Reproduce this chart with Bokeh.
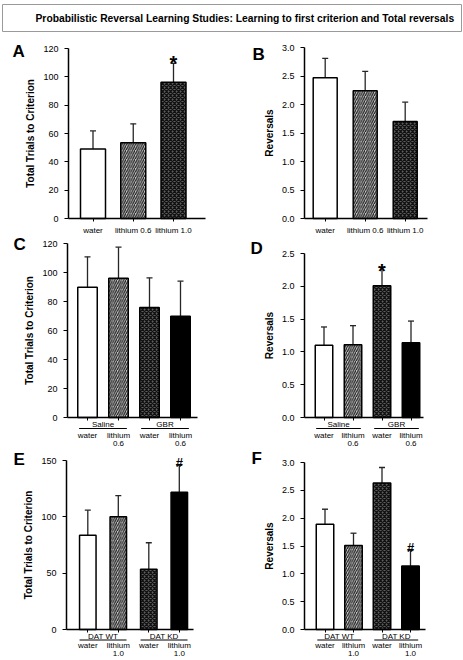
import numpy as np
from bokeh.plotting import figure
from bokeh.layouts import column, row
from bokeh.models import (ColumnDataSource, FixedTicker, LinearAxis, Range1d,
                          Whisker, TeeHead, NumeralTickFormatter)
from bokeh.embed import file_html
from bokeh.resources import INLINE
from bokeh.core.properties import value

FONT = "Liberation Sans"

TITLE = "Probabilistic Reversal Learning Studies: Learning to first criterion and Total reversals"

# ---------------- data ----------------
# Panel A: total trials to criterion, lithium dose
a_cats = ["water", "lithium 0.6", "lithium 1.0"]
a_mean = [49.0, 53.5, 96.2]
a_upper = [61.8, 66.8, 109.5]
a_yticks = [0, 20, 40, 60, 80, 100, 120]

# Panel B: reversals, lithium dose
b_cats = ["water", "lithium 0.6", "lithium 1.0"]
b_mean = [2.47, 2.24, 1.70]
b_upper = [2.81, 2.58, 2.04]
b_yticks = [0.0, 0.5, 1.0, 1.5, 2.0, 2.5, 3.0]

# Panels C/D: Saline vs GBR x water vs lithium 0.6
cd_cats = ["water", "lithium\n0.6", "water", "lithium\n0.6"]
cd_groups = ["Saline", "GBR"]
c_mean = [89.9, 96.0, 75.9, 69.9]
c_upper = [110.8, 117.5, 96.3, 94.0]
c_yticks = [0, 20, 40, 60, 80, 100, 120]
d_mean = [1.10, 1.11, 2.01, 1.14]
d_upper = [1.38, 1.40, 2.29, 1.47]
d_yticks = [0.0, 0.5, 1.0, 1.5, 2.0, 2.5]

# Panels E/F: DAT WT vs DAT KD x water vs lithium 1.0
ef_cats = ["water", "lithium\n1.0", "water", "lithium\n1.0"]
ef_groups = ["DAT WT", "DAT KD"]
e_mean = [83.7, 100.0, 53.5, 121.8]
e_upper = [105.9, 118.9, 77.0, 145.6]
e_yticks = [0, 50, 100, 150]
f_mean = [1.89, 1.51, 2.63, 1.14]
f_upper = [2.16, 1.73, 2.91, 1.42]
f_yticks = [0.0, 0.5, 1.0, 1.5, 2.0, 2.5, 3.0]

# significance marks: (bar index, symbol)
a_mark = (2, "*")
d_mark = (2, "*")
e_mark = (3, "#")
f_mark = (3, "#")

# ---------------- styles ----------------
STYLE = {
    "white": dict(fill_color="white"),
    "stripe": dict(fill_color="#c8c8c8", hatch_pattern="right_diagonal_line",
                   hatch_color="#1e1e1e", hatch_scale=4.5, hatch_weight=1.2),
    "check": dict(fill_color="#5e5e5e", hatch_pattern="diagonal_cross",
                  hatch_color="#111111", hatch_scale=4, hatch_weight=1.3),
    "black": dict(fill_color="black"),
}
styles3 = ["white", "stripe", "check"]
styles4 = ["white", "stripe", "check", "black"]


def build_panel(cats, means, uppers, styles, y_ticks, y_fmt, y_label, letter, g,
                groups=None, mark=None, mark_size="20px", mark_off=0):
    fw, fh = g["w"], g["h"]
    y_max = y_ticks[-1]
    ppu = (g["zero"] - g["ytop"]) / y_max          # pixels per y unit
    sp = g["sp"]                                   # pixels per category step
    y0 = -(g["top"] + fh - g["zero"]) / ppu
    y1 = y_max + (g["ytop"] - g["top"]) / ppu
    x0 = -(g["c0"] - g["left"]) / sp
    x1 = (g["left"] + fw - g["c0"]) / sp
    xa = -(g["c0"] - g["ax"]) / sp                 # where the y axis sits
    xr = (g["right"] - g["c0"]) / sp               # right end of x axis

    p = figure(width=fw, height=fh, x_range=Range1d(x0, x1), y_range=Range1d(y0, y1),
               x_axis_type=None, y_axis_type=None, toolbar_location=None,
               output_backend="svg", min_border=0,
               outline_line_color=None, background_fill_color="white",
               border_fill_color="white")

    yax = LinearAxis(ticker=FixedTicker(ticks=y_ticks), bounds=(0, y_max),
                     fixed_location=xa,
                     formatter=NumeralTickFormatter(format=y_fmt),
                     axis_label=y_label,
                     axis_label_text_font=FONT, axis_label_text_font_size="10px",
                     axis_label_text_font_style="bold", axis_label_standoff=4,
                     axis_label_text_color="black",
                     major_label_text_font=FONT, major_label_text_font_size="9px",
                     major_label_text_color="black",
                     major_label_standoff=6,
                     major_tick_out=4, major_tick_in=0, minor_tick_out=0, minor_tick_in=0,
                     axis_line_width=1.5, major_tick_line_width=1.2,
                     axis_line_color="black", major_tick_line_color="black")
    p.add_layout(yax, "left")

    n = len(cats)
    idx = list(range(n))
    xax = LinearAxis(ticker=FixedTicker(ticks=idx), fixed_location=0, bounds=(xa, xr),
                     major_label_overrides={i: c for i, c in enumerate(cats)},
                     major_label_text_font=FONT, major_label_text_font_size="8px",
                     major_label_text_color="black",
                     major_label_text_line_height=0.95,
                     major_label_standoff=g["xstand"],
                     major_tick_out=3, major_tick_in=0, minor_tick_out=0, minor_tick_in=0,
                     axis_line_width=1.5, major_tick_line_width=1,
                     axis_line_color="black", major_tick_line_color="black")
    p.add_layout(xax, "below")

    src = ColumnDataSource(dict(x=idx, top=means, upper=uppers))
    p.add_layout(Whisker(source=src, base="x", lower="top", upper="upper",
                         line_color="#262626", line_width=1.3,
                         upper_head=TeeHead(size=6, line_color="#262626", line_width=1.3),
                         lower_head=None))
    for i, s in enumerate(styles):
        p.vbar(x=[idx[i]], top=[means[i]], bottom=0, width=g["bw"] / sp,
               line_color="black", line_width=1.5, **STYLE[s])

    if groups:
        gx = [(2 * k + 2 * k + 1) / 2 for k in range(len(groups))]
        p.text(x=gx, y=[0] * len(gx), text=groups, y_offset=g["goff"],
               text_baseline="top", text_align="center",
               text_font=value(FONT), text_font_size="8px", text_color="black")
        yl = -g["gline"] / ppu
        p.segment(x0=[c - 0.77 for c in gx], x1=[c + 0.77 for c in gx],
                  y0=[yl] * len(gx), y1=[yl] * len(gx), line_color="black", line_width=1)

    if mark:
        mi, sym = mark
        p.text(x=[mi], y=[uppers[mi]], text=[sym], y_offset=mark_off,
               text_baseline="alphabetic", text_align="center",
               text_font=value(FONT), text_font_size=mark_size,
               text_font_style="bold", text_color="black")

    lx = x0 + (g["lx"] - g["left"]) / sp
    ly = (g["zero"] - (g["ly"] - 3)) / ppu
    p.text(x=[lx], y=[ly], text=[letter], text_baseline="top", text_align="left",
           text_font=value(FONT), text_font_size="17px", text_font_style="bold",
           text_color="black")
    return p


# ---------------- layout geometry (page pixels) ----------------
LW, RW = 230, 233
TH = 33
R1T, R1H = 33, 202
R2T, R2H = 235, 215
R3T, R3H = 450, 209

gA = dict(left=0, top=R1T, w=LW, h=R1H, ax=68, ytop=48, zero=218, right=205,
          c0=92.5, sp=40.25, bw=25, lx=12, ly=44, xstand=4)
gB = dict(left=LW, top=R1T, w=RW, h=R1H, ax=304, ytop=47, zero=218, right=427,
          c0=324.7, sp=40, bw=24, lx=252, ly=47, xstand=4)
gC = dict(left=0, top=R2T, w=LW, h=R2H, ax=67, ytop=243, zero=417, right=197,
          c0=87, sp=31, bw=19.5, lx=13, ly=237, xstand=10, goff=2, gline=11)
gD = dict(left=LW, top=R2T, w=RW, h=R2H, ax=304, ytop=253, zero=417, right=423,
          c0=323.5, sp=29, bw=17.5, lx=250, ly=241, xstand=10, goff=2, gline=11)
gE = dict(left=0, top=R3T, w=LW, h=R3H, ax=66, ytop=460, zero=629, right=193,
          c0=87.3, sp=30.5, bw=16.5, lx=13, ly=452, xstand=8, goff=2, gline=10.5)
gF = dict(left=LW, top=R3T, w=RW, h=R3H, ax=304, ytop=462, zero=629, right=425,
          c0=324.5, sp=28.5, bw=17.5, lx=251, ly=451, xstand=8, goff=2, gline=10.5)

pA = build_panel(a_cats, a_mean, a_upper, styles3, a_yticks, "0", "Total Trials to Criterion",
                 "A", gA, mark=a_mark, mark_off=0)
pB = build_panel(b_cats, b_mean, b_upper, styles3, b_yticks, "0.0", "Reversals", "B", gB)
pC = build_panel(cd_cats, c_mean, c_upper, styles4, c_yticks, "0", "Total Trials to Criterion",
                 "C", gC, groups=cd_groups)
pD = build_panel(cd_cats, d_mean, d_upper, styles4, d_yticks, "0.0", "Reversals", "D", gD,
                 groups=cd_groups, mark=d_mark, mark_off=4)
pE = build_panel(ef_cats, e_mean, e_upper, styles4, e_yticks, "0", "Total Trials to Criterion",
                 "E", gE, groups=ef_groups, mark=e_mark, mark_size="13px", mark_off=-3)
pF = build_panel(ef_cats, f_mean, f_upper, styles4, f_yticks, "0.0", "Reversals", "F", gF,
                 groups=ef_groups, mark=f_mark, mark_size="13px", mark_off=-3)

# title box
pt = figure(width=LW + RW, height=TH, x_range=Range1d(0, 459), y_range=Range1d(0, 27),
            x_axis_type=None, y_axis_type=None, toolbar_location=None, output_backend="svg",
            min_border_left=2, min_border_right=2, min_border_top=4, min_border_bottom=2,
            outline_line_color="#9a9a9a", outline_line_width=1,
            background_fill_color="white", border_fill_color="white")
pt.text(x=[33], y=[13.5], text=[TITLE], text_baseline="middle", text_align="left",
        text_font=value(FONT), text_font_size="10.3px", text_font_style="bold",
        text_color="black")

layout = column(pt, row(pA, pB), row(pC, pD), row(pE, pF))

open("out.html", "w").write(file_html(layout, INLINE))
